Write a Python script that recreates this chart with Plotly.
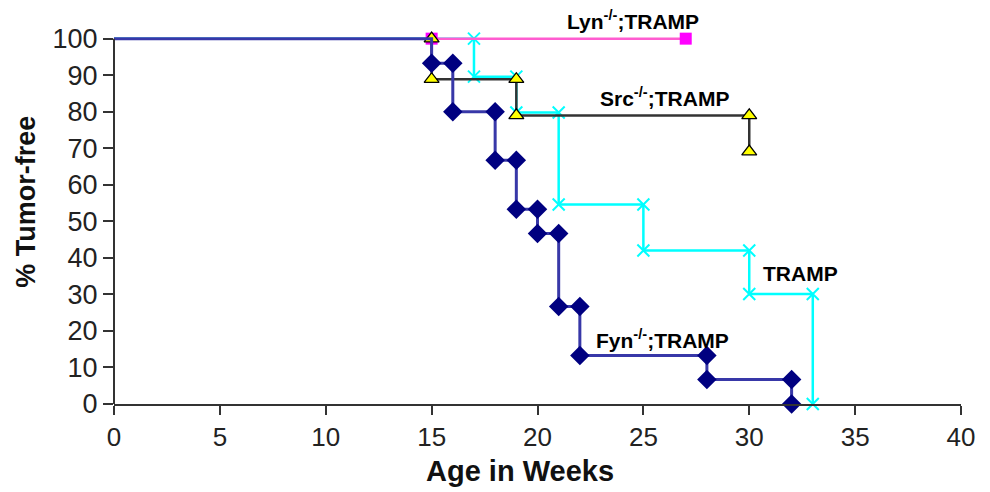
import plotly.graph_objects as go

# ---- data (Kaplan-Meier style step curves, corner points) ----
fyn_x = [0, 15, 15, 16, 16, 18, 18, 19, 19, 20, 20, 21, 21, 22, 22, 28, 28, 32, 32]
fyn_y = [100, 100, 93.3, 93.3, 80, 80, 66.7, 66.7, 53.3, 53.3, 46.7, 46.7, 26.7, 26.7, 13.3, 13.3, 6.7, 6.7, 0]

lyn_x = [15, 27]
lyn_y = [100, 100]

src_x = [15, 15, 19, 19, 30, 30]
src_y = [100, 88.9, 88.9, 79.0, 79.0, 69.1]

tramp_x = [0, 17, 17, 19, 19, 21, 21, 25, 25, 30, 30, 33, 33]
tramp_y = [100, 100, 89.6, 89.6, 79.8, 79.8, 54.6, 54.6, 42.0, 42.0, 30.1, 30.1, 0]

x_ticks = [0, 5, 10, 15, 20, 25, 30, 35, 40]
y_ticks = [0, 10, 20, 30, 40, 50, 60, 70, 80, 90, 100]

labels = ["Lyn<sup>-/-</sup>;TRAMP", "Src<sup>-/-</sup>;TRAMP", "TRAMP", "Fyn<sup>-/-</sup>;TRAMP"]
label_x = [24.5, 26.0, 32.4, 25.9]
label_y = [105.2, 83.9, 35.7, 17.8]

x_title = "Age in Weeks"
y_title = "% Tumor-free"

FONT = "Liberation Sans, Arial, sans-serif"
Y_TOP = 101  # a little headroom so lines at 100 are not clipped

fig = go.Figure()

# TRAMP (cyan, x markers) - drawn first (bottom)
fig.add_trace(go.Scatter(
    x=tramp_x, y=tramp_y, mode="lines+markers",
    line=dict(color="#00FFFF", width=2.5),
    marker=dict(symbol="x-thin-open", size=[0] + [12] * (len(tramp_x) - 1), opacity=1,
                line=dict(color="#00FFFF", width=2), color="#00FFFF"),
    showlegend=False, cliponaxis=False))

# Lyn (magenta, squares)
fig.add_trace(go.Scatter(
    x=lyn_x, y=lyn_y, mode="lines+markers",
    line=dict(color="#FF5CD0", width=2.5),
    marker=dict(symbol="square", size=12, color="#FF00FF", opacity=1, line=dict(width=0)),
    showlegend=False, cliponaxis=False))

# Src (black line, yellow triangles)
fig.add_trace(go.Scatter(
    x=src_x, y=src_y, mode="lines+markers",
    line=dict(color="#333333", width=2.5),
    marker=dict(symbol="triangle-up", size=13, color="#FFFF00", opacity=1,
                line=dict(color="#000000", width=1.3)),
    showlegend=False, cliponaxis=False))

# Fyn (navy, diamonds)
fig.add_trace(go.Scatter(
    x=fyn_x, y=fyn_y, mode="lines+markers",
    line=dict(color="#3838A8", width=3),
    marker=dict(symbol="diamond", size=[0, 0] + [15] * (len(fyn_x) - 2), opacity=1,
                color="#000080", line=dict(width=0)),
    showlegend=False, cliponaxis=False))

# curve labels
for t, lx, ly in zip(labels, label_x, label_y):
    if ly > Y_TOP:
        fig.add_annotation(x=lx / 40, y=ly / Y_TOP, xref="paper", yref="paper",
                           text="<b>" + t + "</b>", showarrow=False,
                           font=dict(family=FONT, size=21, color="#000000"),
                           xanchor="center", yanchor="middle")
    else:
        fig.add_annotation(x=lx, y=ly, xref="x", yref="y", text="<b>" + t + "</b>",
                           showarrow=False, font=dict(family=FONT, size=21, color="#000000"),
                           xanchor="center", yanchor="middle")

# axis titles
fig.add_annotation(x=0.479, y=-0.182, xref="paper", yref="paper",
                   text="<b>" + x_title + "</b>", showarrow=False,
                   font=dict(family=FONT, size=29, color="#111111"),
                   xanchor="center", yanchor="middle")
fig.add_annotation(x=-0.104, y=0.548, xref="paper", yref="paper",
                   text="<b>" + y_title + "</b>", showarrow=False, textangle=-90,
                   font=dict(family=FONT, size=27, color="#111111"),
                   xanchor="center", yanchor="middle")

# y axis line only from 0 to 100
fig.add_shape(type="line", xref="paper", yref="y", x0=0, x1=0, y0=0, y1=100,
              line=dict(color="#333333", width=2), layer="above")

fig.update_layout(
    width=990, height=492,
    margin=dict(l=106, r=37, t=27, b=96),
    paper_bgcolor="white", plot_bgcolor="white",
    font=dict(family=FONT, color="#222222"),
    xaxis=dict(range=[0, 40], tickvals=x_ticks, showgrid=False, zeroline=False,
               showline=True, linecolor="#333333", linewidth=2,
               ticks="outside", ticklen=9, tickwidth=2, tickcolor="#333333",
               tickfont=dict(family=FONT, size=26, color="#222222"),
               automargin=False),
    yaxis=dict(range=[0, Y_TOP], tickvals=y_ticks, showgrid=False, zeroline=False,
               showline=False,
               ticks="outside", ticklen=10, tickwidth=2, tickcolor="#333333",
               tickfont=dict(family=FONT, size=27, color="#222222"),
               automargin=False),
)

fig.write_html("out.html")
